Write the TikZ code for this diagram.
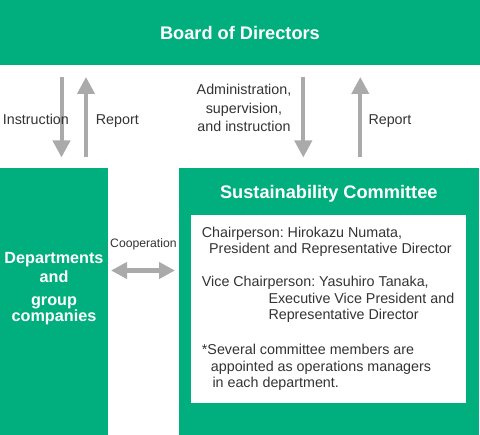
\documentclass[tikz,border=0pt]{standalone}
\usepackage{fontspec}
\setmainfont{Liberation Sans}
\usetikzlibrary{arrows.meta}
\definecolor{orgG}{RGB}{0,175,125}
\definecolor{orgA}{RGB}{170,170,170}
\definecolor{orgT}{RGB}{51,51,51}
\frenchspacing

\begin{document}
\begin{tikzpicture}[x=1pt,y=-1pt,
  greenbox/.style={fill=orgG,draw=none,inner sep=0pt,anchor=north west},
  headtxt/.style={white,inner sep=0pt,font=\bfseries\fontsize{18.2}{22}\selectfont},
  lbl/.style={orgT,inner sep=0pt,font=\fontsize{14.3}{18.3}\selectfont},
  flow/.style={orgA,line width=4pt,-{Triangle[width=17pt,length=17pt]}},
  both/.style={orgA,line width=4.5pt,{Triangle[width=16pt,length=16pt]}-{Triangle[width=16pt,length=16pt]}}]
\useasboundingbox (0,0) rectangle (480,435);
% boxes
\node[greenbox,minimum width=480pt,minimum height=65pt] (board) at (0,0) {};
\node[headtxt] (boardttl) at (240,32.5) {Board of Directors};
\node[greenbox,minimum width=108pt,minimum height=267pt] (depts) at (0,168) {};
\node[headtxt,align=center,anchor=north,font=\bfseries\fontsize{16.2}{18.7}\selectfont] (deptsttl) at (54,252.3)
  {Departments\\and\\[4.6pt]group\\[-3pt]companies};
\node[greenbox,minimum width=300pt,minimum height=267pt] (committee) at (179,168) {};
\node[headtxt,anchor=base] (comttl) at (328.8,199) {Sustainability Committee};
\node[greenbox,fill=white,minimum width=275pt,minimum height=188pt] (members) at (191,215) {};
\node[lbl,anchor=north west,align=left,font=\fontsize{14.3}{16.6}\selectfont] (memtxt) at (201.7,226.6)
  {Chairperson: Hirokazu Numata,\\
   \hspace*{7.3pt}President and Representative Director\\[16.3pt]
   Vice Chairperson: Yasuhiro Tanaka,\\
   \hspace*{66.6pt}Executive Vice President and\\
   \hspace*{66.6pt}Representative Director\\[18pt]
   *Several committee members are\\
   \hspace*{9pt}appointed as operations managers\\
   \hspace*{10.6pt}in each department.};
% arrows
\coordinate (insA) at (61.5,77);
\coordinate (insB) at (61.5,157.5);
\coordinate (repA) at (86,157.5);
\coordinate (repB) at (86,77);
\coordinate (admA) at (303.3,77);
\coordinate (admB) at (303.3,157.5);
\coordinate (crepA) at (360.3,157.5);
\coordinate (crepB) at (360.3,77);
\coordinate (coopA) at (111,270.5);
\coordinate (coopB) at (175,270.5);
\draw[flow] (insA) -- (insB);
\draw[flow] (repA) -- (repB);
\draw[flow] (admA) -- (admB);
\draw[flow] (crepA) -- (crepB);
\draw[both] (coopA) -- (coopB);
% labels
\node[lbl,anchor=base west] (inslbl) at (2.7,125) {Instruction};
\node[lbl,anchor=base west] (replbl) at (95.7,125) {Report};
\node[lbl,anchor=north,align=center] (admlbl) at (244,84.4) {Administration,\\supervision,\\and instruction};
\node[lbl,anchor=base west] (creplbl) at (368.3,125) {Report};
\node[lbl,anchor=base west,font=\fontsize{12.2}{14}\selectfont] (cooplbl) at (110,247.3) {Cooperation};
\end{tikzpicture}
\end{document}
